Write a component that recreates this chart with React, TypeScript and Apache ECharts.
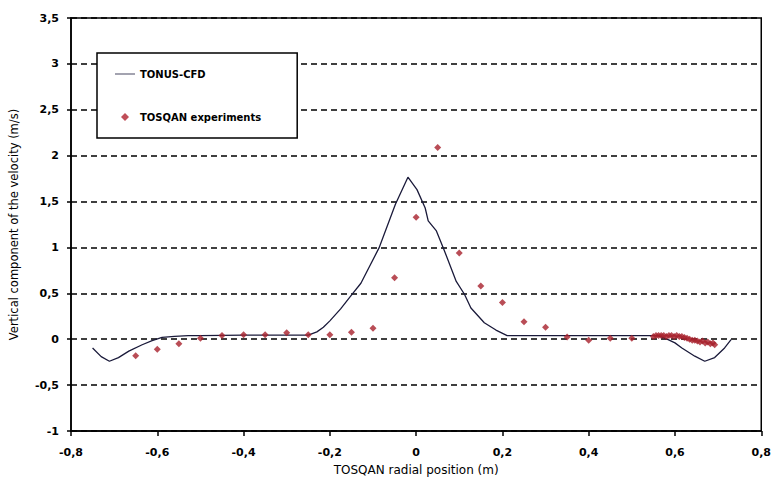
import React, { useEffect, useRef } from "react";
import * as echarts from "echarts";

const cfdX = [-0.75, -0.73, -0.711, -0.69, -0.666, -0.635, -0.612, -0.589, -0.56, -0.528, -0.5, -0.4, -0.3, -0.25, -0.23, -0.215, -0.2, -0.175, -0.15, -0.128, -0.086, -0.048, -0.019, 0.002, 0.021, 0.028, 0.047, 0.063, 0.093, 0.112, 0.127, 0.158, 0.185, 0.211, 0.3, 0.4, 0.5, 0.56, 0.578, 0.6, 0.616, 0.646, 0.669, 0.692, 0.715, 0.73];
const cfdY = [-0.095, -0.19, -0.24, -0.2, -0.13, -0.06, -0.015, 0.02, 0.03, 0.04, 0.04, 0.045, 0.045, 0.045, 0.08, 0.13, 0.2, 0.33, 0.48, 0.61, 0.995, 1.47, 1.765, 1.63, 1.43, 1.29, 1.18, 0.995, 0.63, 0.49, 0.34, 0.18, 0.1, 0.04, 0.04, 0.04, 0.04, 0.04, 0.01, -0.04, -0.095, -0.185, -0.24, -0.2, -0.095, -0.005];

const expX = [-0.65, -0.6, -0.55, -0.5, -0.45, -0.4, -0.35, -0.3, -0.25, -0.2, -0.15, -0.1, -0.05, 0, 0.05, 0.1, 0.15, 0.2, 0.25, 0.3, 0.35, 0.4, 0.45, 0.5,
  0.55, 0.556, 0.562, 0.568, 0.574, 0.58, 0.586, 0.592, 0.598, 0.604, 0.61, 0.616, 0.622, 0.628, 0.634, 0.64, 0.646, 0.652, 0.658, 0.664, 0.67, 0.676, 0.682, 0.688, 0.692];
const expY = [-0.18, -0.11, -0.05, 0.01, 0.04, 0.05, 0.05, 0.07, 0.05, 0.05, 0.075, 0.12, 0.67, 1.33, 2.09, 0.94, 0.58, 0.4, 0.19, 0.13, 0.025, -0.01, 0.01, 0.01,
  0.03, 0.04, 0.04, 0.04, 0.04, 0.03, 0.04, 0.04, 0.03, 0.04, 0.03, 0.03, 0.02, 0.01, 0.0, -0.01, -0.01, -0.02, -0.03, -0.02, -0.04, -0.03, -0.05, -0.04, -0.06];

const seriesNames = ["TONUS-CFD", "TOSQAN experiments"];
const xTitle = "TOSQAN radial position (m)";
const yTitle = "Vertical component of the velocity (m/s)";

const fmt = (v: number) => {
  const r = Math.round(v * 10) / 10;
  return String(r).replace(".", ",");
};

export default function App() {
  const ref = useRef<HTMLDivElement>(null);
  useEffect(() => {
    if (!ref.current) return;
    const chart = echarts.init(ref.current, undefined, { renderer: "svg" });
    const font = "DejaVu Sans, Verdana, sans-serif";
    chart.setOption({
      animation: false,
      backgroundColor: "#fff",
      textStyle: { fontFamily: font },
      grid: {
        left: 68,
        right: 7,
        top: 18,
        bottom: 55,
        show: true,
        borderColor: "#000",
        borderWidth: 1.5,
        backgroundColor: "transparent",
      },
      legend: {
        orient: "vertical",
        left: 97,
        top: 53,
        itemWidth: 20,
        itemHeight: 8,
        itemGap: 33,
        padding: [16, 36, 16, 18],
        backgroundColor: "#fff",
        borderColor: "#000",
        borderWidth: 1.5,
        borderRadius: 0,
        textStyle: { fontFamily: font, fontSize: 10, color: "#000", fontWeight: "bold" },
        data: [
          { name: seriesNames[0], icon: "path://M0,0H40V1.6H0Z", itemStyle: { color: "#1a1a3a" } },
          { name: seriesNames[1], icon: "path://M3,0L6,3L3,6L0,3Z", itemStyle: { color: "#b0222e" } },
        ],
      },
      xAxis: {
        type: "value",
        min: -0.8,
        max: 0.8,
        interval: 0.2,
        name: xTitle,
        nameLocation: "middle",
        nameGap: 33,
        nameTextStyle: { fontSize: 12, color: "#000", fontFamily: font },
        axisLine: { onZero: false, lineStyle: { color: "#000", width: 1.5 } },
        axisTick: { show: true, length: 5, lineStyle: { color: "#000", width: 1.5 } },
        axisLabel: { formatter: fmt, fontSize: 11, color: "#000", fontWeight: "bold", margin: 16 },
        splitLine: { show: false },
      },
      yAxis: {
        type: "value",
        min: -1,
        max: 3.5,
        interval: 0.5,
        name: yTitle,
        nameLocation: "middle",
        nameGap: 51,
        nameRotate: 90,
        nameTextStyle: { fontSize: 11.5, color: "#000", fontFamily: font },
        axisLine: { onZero: false, lineStyle: { color: "#000", width: 1.5 } },
        axisTick: { show: true, length: 4, lineStyle: { color: "#000", width: 1.5 } },
        axisLabel: { formatter: fmt, fontSize: 11, color: "#000", fontWeight: "bold", margin: 12 },
        splitLine: { show: true, lineStyle: { color: "#000", width: 1.5, type: [6, 4] } },
      },
      series: [
        {
          name: seriesNames[0],
          type: "line",
          symbol: "none",
          data: cfdX.map((x, i) => [x, cfdY[i]]),
          lineStyle: { color: "#1a1a3a", width: 1.3 },
          itemStyle: { color: "#1a1a3a" },
          z: 3,
        },
        {
          name: seriesNames[1],
          type: "scatter",
          symbol: "diamond",
          symbolSize: 7,
          data: expX.map((x, i) => [x, expY[i]]),
          itemStyle: { color: "#a8202c" },
          z: 4,
        },
      ],
    });
    return () => chart.dispose();
  }, []);
  return (
    <div
      ref={ref}
      style={{ position: "fixed", left: 0, top: 0, width: 774, height: 486, background: "#fff" }}
    />
  );
}
